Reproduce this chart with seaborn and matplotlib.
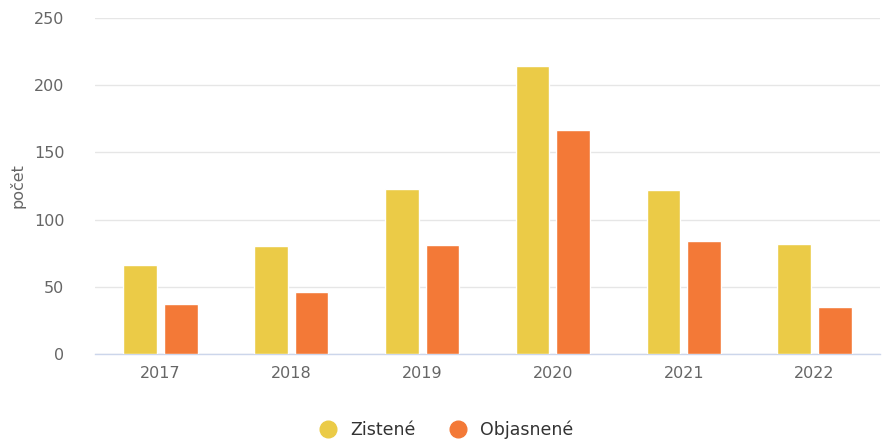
import pandas as pd
import matplotlib.pyplot as plt
import seaborn as sns
from matplotlib.lines import Line2D

# Data
years = ["2017", "2018", "2019", "2020", "2021", "2022"]
zistene = [66, 80, 123, 214, 122, 82]
objasnene = [37, 46, 81, 167, 84, 35]
series_names = ["Zistené", "Objasnené"]
colors = ["#EBCB47", "#F37937"]

df = pd.DataFrame({
    "rok": years * 2,
    "pocet": zistene + objasnene,
    "typ": [series_names[0]] * len(years) + [series_names[1]] * len(years),
})

sns.set_style("white")
plt.rcParams["font.family"] = ["DejaVu Sans"]

fig = plt.figure(figsize=(8.84, 4.44), dpi=100)
ax = fig.add_axes([95 / 884, 1 - 354 / 444, (880 - 95) / 884, (354 - 18) / 444])

sns.barplot(data=df, x="rok", y="pocet", hue="typ", palette=colors,
            saturation=1, width=0.62, gap=0.17, edgecolor="white", linewidth=1,
            legend=False, ax=ax, zorder=3)

ax.set_ylim(0, 250)
ax.set_yticks([0, 50, 100, 150, 200, 250])
ax.grid(axis="y", color="#e6e6e6", linewidth=1, zorder=0)
ax.set_xlabel("")
ax.set_ylabel("počet", fontsize=11.5, color="#666666", labelpad=6)
ax.tick_params(axis="both", labelsize=11.5, labelcolor="#666666", length=0)
ax.tick_params(axis="x", pad=9)
ax.tick_params(axis="y", pad=22)
for s in ["top", "right", "left"]:
    ax.spines[s].set_visible(False)
ax.spines["bottom"].set_color("#ccd6eb")
ax.spines["bottom"].set_linewidth(1)

handles = [Line2D([0], [0], marker="o", linestyle="", markersize=12,
                  markerfacecolor=c, markeredgecolor=c) for c in colors]
fig.legend(handles, series_names, loc="lower center", ncol=2, frameon=False,
           bbox_to_anchor=(0.5, -0.025), fontsize=12.5, handletextpad=0.3,
           columnspacing=1.4, labelcolor="#333333")

plt.savefig("out.png", dpi=100)
